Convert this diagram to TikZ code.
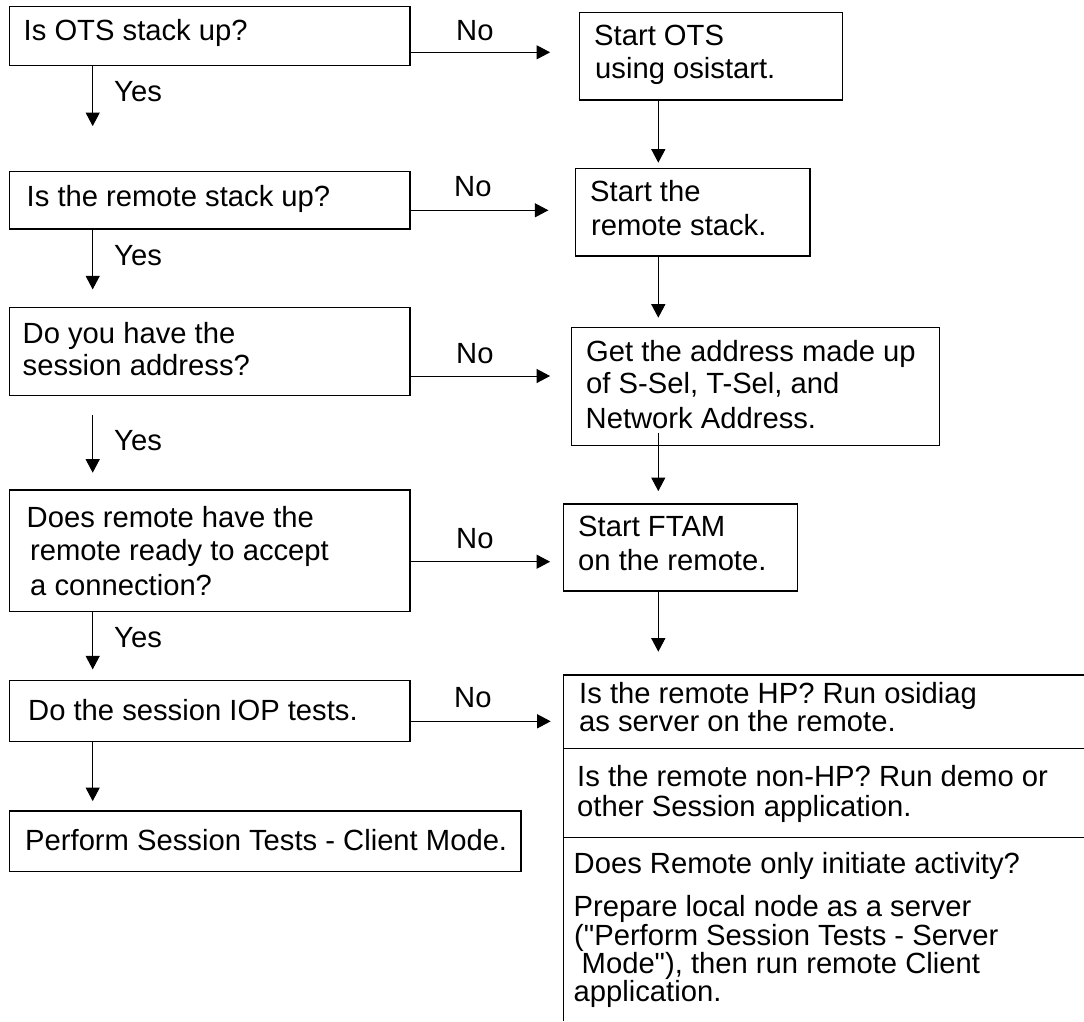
\documentclass[tikz,border=0pt]{standalone}
\usepackage{fontspec}
\setmainfont{Liberation Sans}[Ligatures=TeXOff]
\usetikzlibrary{arrows.meta}
\begin{document}
\begin{tikzpicture}[x=1pt,y=-1pt,
  font=\fontsize{29.2}{35}\selectfont,
  box/.style={draw, line width=1.2pt, rectangle, inner sep=0pt},
  txt/.style={anchor=base west, inner sep=0pt},
  arr/.style={line width=1pt, -{Triangle[length=13.5pt,width=14pt]}},
  ln/.style={line width=1.2pt}]
\useasboundingbox (0,0) rectangle (1084,1021);

% left column boxes
\node[box, minimum width=400.7pt, minimum height=59pt] (b1) at (209.65,36.2) {};
\node[box, minimum width=400.7pt, minimum height=57.3pt] (b2) at (209.65,200.35) {};
\node[box, minimum width=400.7pt, minimum height=88.4pt] (b3) at (209.65,351.5) {};
\node[box, minimum width=400.7pt, minimum height=121.7pt] (b4) at (209.65,550.85) {};
\node[box, minimum width=400.7pt, minimum height=61pt] (b5) at (209.65,711.2) {};
\node[box, minimum width=511.7pt, minimum height=60.7pt] (b6) at (265.15,841.35) {};

% right column boxes
\node[box, minimum width=263pt, minimum height=87.3pt] (r1) at (710.8,56.35) {};
\node[box, minimum width=234.3pt, minimum height=87.7pt] (r2) at (692.85,212.15) {};
\node[box, minimum width=367.6pt, minimum height=118pt] (r3) at (755.5,386.7) {};
\node[box, minimum width=234.4pt, minimum height=87pt] (r4) at (680.5,547.5) {};
\node[draw=none, inner sep=0pt, minimum width=520.7pt, minimum height=346pt, anchor=north west] (r5) at (563.3,675) {};
\draw[ln] (r5.north east) -- (r5.north west) -- (r5.south west);
\draw[ln] ([yshift=-73.3pt]r5.north west) -- ([yshift=-73.3pt]r5.north east);
\draw[ln] ([yshift=-162.7pt]r5.north west) -- ([yshift=-162.7pt]r5.north east);

% texts
\node[txt] (t1) at (23.5,40) {Is OTS stack up?};
\node[txt] (t2) at (26.5,206.7) {Is the remote stack up?};
\node[txt] (t3a) at (22.5,343.3) {Do you have the};
\node[txt] (t3b) at (22.5,375) {session address?};
\node[txt] (t4a) at (26.5,527.3) {Does remote have the};
\node[txt] (t4b) at (30,560) {remote ready to accept};
\node[txt] (t4c) at (30,595) {a connection?};
\node[txt] (t5) at (28,720.7) {Do the session IOP tests.};
\node[txt] (t6) at (25,850) {Perform Session Tests - Client Mode.};

\node[txt] (s1a) at (594,45) {Start OTS};
\node[txt] (s1b) at (595,78.3) {using osistart.};
\node[txt] (s2a) at (590,201.7) {Start the};
\node[txt] (s2b) at (591,235) {remote stack.};
\node[txt] (s3a) at (586,361.7) {Get the address made up};
\node[txt] (s3b) at (586,393.3) {of S-Sel, T-Sel, and};
\node[txt] (s3c) at (585.5,428.3) {Network Address.};
\node[txt] (s4a) at (578,536.7) {Start FTAM};
\node[txt] (s4b) at (578,570) {on the remote.};
\node[txt] (s5a) at (579,703.3) {Is the remote HP? Run osidiag};
\node[txt] (s5b) at (579,731) {as server on the remote.};
\node[txt] (s5c) at (577,786.7) {Is the remote non-HP? Run demo or};
\node[txt] (s5d) at (577,816) {other Session application.};
\node[txt] (s5e) at (573.5,873.3) {Does Remote only initiate activity?};
\node[txt] (s5f) at (573.5,916.7) {Prepare local node as a server};
\node[txt] (s5g) at (574,945.7) {("Perform Session Tests - Server};
\node[txt] (s5h) at (581.5,973.3) {Mode"), then run remote Client};
\node[txt] (s5i) at (573.5,1001.7) {application.};

% No / Yes labels
\node[txt] (n1) at (456,40) {No};
\node[txt] (n2) at (454,196.7) {No};
\node[txt] (n3) at (456,363.3) {No};
\node[txt] (n4) at (456,548.3) {No};
\node[txt] (n5) at (454,707.3) {No};
\node[txt] (y1) at (114,101.7) {Yes};
\node[txt] (y2) at (114,265) {Yes};
\node[txt] (y3) at (114,450) {Yes};
\node[txt] (y4) at (114,647.7) {Yes};

% No arrows
\draw[arr, shorten >=28.6pt] ([yshift=-16.1pt]b1.east) -- ([yshift=-16.1pt]b1.east -| r1.west);
\draw[arr, shorten >=26.7pt] ([yshift=-9.95pt]b2.east) -- ([yshift=-9.95pt]b2.east -| r2.west);
\draw[arr, shorten >=21pt] ([yshift=-24.5pt]b3.east) -- ([yshift=-24.5pt]b3.east -| r3.west);
\draw[arr, shorten >=12.6pt] ([yshift=-10.85pt]b4.east) -- ([yshift=-10.85pt]b4.east -| r4.west);
\draw[arr, shorten >=12.6pt] ([yshift=-10.1pt]b5.east) -- ([yshift=-10.1pt]b5.east -| r5.west);

% Yes arrows (left column)
\draw[arr, shorten >=45pt] ([xshift=-116.95pt]b1.south) -- ([xshift=-116.95pt]b1.south |- b2.north);
\draw[arr, shorten >=17.3pt] ([xshift=-116.95pt]b2.south) -- ([xshift=-116.95pt]b2.south |- b3.north);
\draw[arr, shorten <=18.6pt, shorten >=16.7pt] ([xshift=-116.95pt]b3.south) -- ([xshift=-116.95pt]b3.south |- b4.north);
\draw[arr, shorten >=10.7pt] ([xshift=-116.95pt]b4.south) -- ([xshift=-116.95pt]b4.south |- b5.north);
\draw[arr, shorten >=9.3pt] ([xshift=-116.95pt]b5.south) -- ([xshift=-116.95pt]b5.south |- b6.north);

% right column arrows
\draw[arr, shorten >=5pt] ([xshift=-52.5pt]r1.south) -- ([xshift=-52.5pt]r1.south |- r2.north);
\draw[arr, shorten >=9.4pt] ([xshift=-34.55pt]r2.south) -- ([xshift=-34.55pt]r2.south |- r3.north);
\draw[arr, shorten <=-13.4pt, shorten >=12.3pt] ([xshift=-97.2pt]r3.south) -- ([xshift=-97.2pt]r3.south |- r4.north);
\draw[arr, shorten >=23.3pt] ([xshift=-22.2pt]r4.south) -- ([xshift=-22.2pt]r4.south |- r5.north);
\end{tikzpicture}
\end{document}
